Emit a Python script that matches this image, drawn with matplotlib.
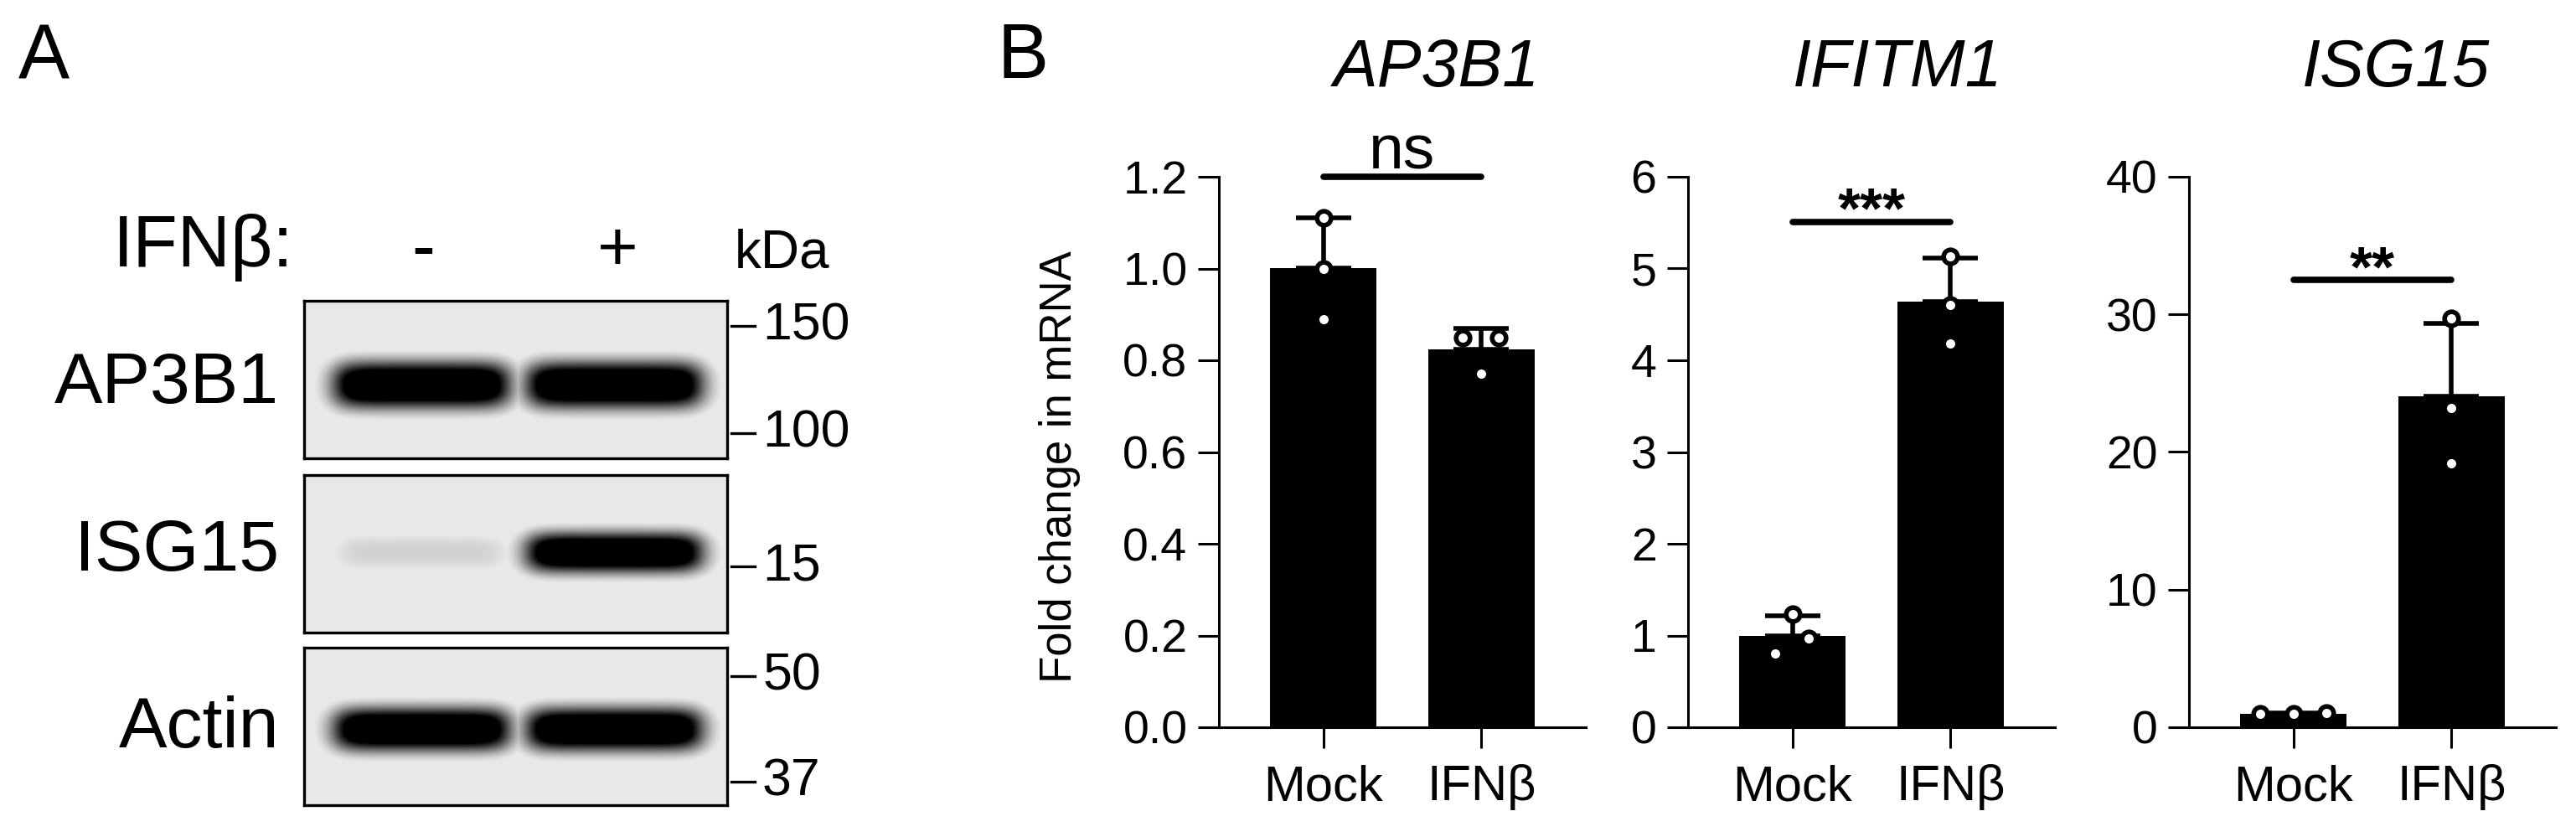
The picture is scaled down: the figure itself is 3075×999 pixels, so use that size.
import numpy as np
import matplotlib.pyplot as plt

plt.rcParams['font.family'] = ['Liberation Sans', 'DejaVu Sans']

W, H = 3075, 999

# ---- panel A: western blot ----
blot_rows = ['AP3B1', 'ISG15', 'Actin']
lane_labels = ['-', '+']
band_intensity = [[1.0, 1.0], [0.13, 1.0], [1.0, 1.0]]
marker_kda = ['150', '100', '15', '50', '37']
marker_row = [0, 0, 1, 2, 2]
marker_pos = [0.16, 0.84, 0.58, 0.18, 0.85]

# ---- panel B: qPCR ----
genes = ['AP3B1', 'IFITM1', 'ISG15']
groups = ['Mock', 'IFNβ']
ap3b1_mock = [1.11, 1.00, 0.89]
ap3b1_ifn = [0.85, 0.85, 0.77]
ifitm1_mock = [1.23, 0.97, 0.80]
ifitm1_ifn = [5.13, 4.60, 4.18]
isg15_mock = [0.97, 1.03, 1.00]
isg15_ifn = [29.7, 23.2, 19.2]
y_max = [1.2, 6, 40]
y_step = [0.2, 1, 10]
y_fmt = ['{:.1f}', '{:.0f}', '{:.0f}']
sig_labels = ['ns', '***', '**']
sig_y = [1.2, 5.51, 32.5]

values = [(ap3b1_mock, ap3b1_ifn), (ifitm1_mock, ifitm1_ifn), (isg15_mock, isg15_ifn)]
# horizontal spread of replicate dots (GraphPad style)
dot_dx = [([0, 0, 0], [-0.12, 0.11, 0]),
          ([0, 0.105, -0.11], [0, 0, 0]),
          ([-0.21, 0.21, 0], [0, 0, 0])]

fig = plt.figure(figsize=(W / 100, H / 100), dpi=100)

# overlay axes in pixel units for free text
ov = fig.add_axes([0, 0, 1, 1])
ov.set_xlim(0, W)
ov.set_ylim(H, 0)
ov.axis('off')

ov.text(22, 28, 'A', fontsize=66, va='top', ha='left')
ov.text(1190, 26, 'B', fontsize=66, va='top', ha='left')

# blot
box_x0, box_x1 = 363, 868
box_tops = [359, 567, 773]
box_h = 188
lane_cx = [140, 370]
lane_half = 102
band_cy = [100, 92, 97]
band_sy = [28, 24, 26]

ov.text(351, 295, 'IFNβ:', fontsize=63, ha='right', va='center')
ov.text(505, 300, lane_labels[0], fontsize=60, ha='center', va='center')
ov.text(737, 300, lane_labels[1], fontsize=60, ha='center', va='center')
ov.text(877, 303, 'kDa', fontsize=46, ha='left', va='center')

for r, name in enumerate(blot_rows):
    top = box_tops[r]
    ax = fig.add_axes([box_x0 / W, 1 - (top + box_h) / H, (box_x1 - box_x0) / W, box_h / H])
    w = box_x1 - box_x0
    yy, xx = np.mgrid[0:box_h, 0:w]
    img = np.full((box_h, w), 0.09)
    for li, inten in enumerate(band_intensity[r]):
        fx = 1 / (1 + np.exp((np.abs(xx - lane_cx[li]) - lane_half) / 10))
        fy = np.exp(-(np.abs(yy - band_cy[r]) / band_sy[r]) ** 2.5)
        img = np.maximum(img, np.clip(1.4 * inten * fx * fy, 0, 1))
    ax.imshow(img, cmap='gray_r', vmin=0, vmax=1, aspect='auto', interpolation='bilinear')
    ax.set_xticks([])
    ax.set_yticks([])
    for s in ax.spines.values():
        s.set_linewidth(2.4)
    ov.text(333, top + band_cy[r], name, fontsize=62, ha='right', va='center')

for lab, r, p in zip(marker_kda, marker_row, marker_pos):
    y = box_tops[r] + p * box_h
    ov.plot([873, 901], [y, y], color='black', lw=2.4)
    ov.text(910, y, lab, fontsize=45, ha='left', va='center')

# bar charts
ax_left = [1455, 2015, 2613]
ax_w = 438
ax_top, ax_bot = 211, 868
title_x = [1715, 2265, 2860]

for i in range(3):
    ax = fig.add_axes([ax_left[i] / W, 1 - ax_bot / H, ax_w / W, (ax_bot - ax_top) / H])
    ax.patch.set_alpha(0)
    mock, ifn = values[i]
    means = [np.mean(mock), np.mean(ifn)]
    sds = [np.std(mock, ddof=1), np.std(ifn, ddof=1)]
    xs = np.arange(2)
    ax.bar(xs, means, width=0.67, color='black', zorder=2)
    ax.errorbar(xs, means, yerr=[[0, 0], sds], fmt='none', ecolor='black',
                elinewidth=4, capsize=24, capthick=4, zorder=3)
    for g, pts in enumerate(values[i]):
        ax.plot(xs[g] + np.array(dot_dx[i][g]), pts, 'o', ms=12, mfc='white',
                mec='black', mew=4, zorder=4, clip_on=False)
    ax.set_xlim(-0.66, 1.66)
    ax.set_ylim(0, y_max[i])
    ticks = np.arange(0, y_max[i] + y_step[i] / 2, y_step[i])
    ax.set_yticks(ticks)
    ax.set_yticklabels([y_fmt[i].format(t) for t in ticks], fontsize=40)
    ax.set_xticks(xs)
    ax.set_xticklabels(groups, fontsize=43)
    ax.tick_params(length=18, width=2.2)
    ax.tick_params(axis='y', pad=9)
    ax.tick_params(axis='x', pad=14)
    for s in ['top', 'right']:
        ax.spines[s].set_visible(False)
    for s in ['left', 'bottom']:
        ax.spines[s].set_linewidth(2.2)
    # significance bar
    ax.plot([0, 1], [sig_y[i], sig_y[i]], color='black', lw=5.5,
            solid_capstyle='round', clip_on=False, zorder=5)
    if sig_labels[i] == 'ns':
        ax.annotate('ns', xy=(0.5, sig_y[i]), xytext=(0, 7), textcoords='offset points',
                    ha='center', va='baseline', fontsize=54, annotation_clip=False)
    else:
        ax.annotate(sig_labels[i], xy=(0.5, sig_y[i]), xytext=(0, -5), textcoords='offset points',
                    ha='center', va='baseline', fontsize=50, fontweight='bold', annotation_clip=False)
    ov.text(title_x[i], 82, genes[i], fontsize=57, style='italic', ha='center', va='center')

ov.text(1265, 557, 'Fold change in mRNA', fontsize=38, rotation=90, ha='center', va='center')

fig.savefig('out.png', dpi=100)
